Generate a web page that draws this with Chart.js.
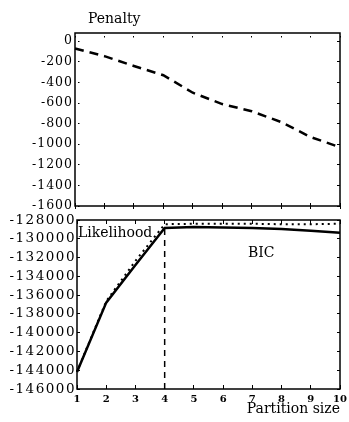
<!DOCTYPE html>
<html><head><meta charset="utf-8">
<script src="https://cdn.jsdelivr.net/npm/chart.js@4.4.1/dist/chart.umd.min.js"></script>
<style>
html,body{margin:0;padding:0;background:#fff;}
body{width:349px;height:422px;position:relative;overflow:hidden;}
#c1{position:absolute;left:0;top:0;width:349px;height:214px;}
#c2{position:absolute;left:0;top:212px;width:349px;height:210px;}
</style></head><body>
<canvas id="c1" width="349" height="214"></canvas>
<canvas id="c2" width="349" height="210"></canvas>
<script>
// ---- data ----
const partitionSizes = ['1','2','3','4','5','6','7','8','9','10'];
const penalty    = [-70, -145, -240, -330, -500, -610, -680, -785, -930, -1030];
const likelihood = [-144150, -136650, -132350, -128450, -128400, -128400, -128400, -128450, -128450, -128400];
const bic        = [-144200, -136800, -132800, -128850, -128750, -128800, -128850, -128950, -129150, -129350];
const penaltyTicks = [0, -200, -400, -600, -800, -1000, -1200, -1400, -1600];
const scoreTicks = [-128000, -130000, -132000, -134000, -136000, -138000, -140000, -142000, -144000, -146000];
const bestPartition = '4';

Chart.defaults.font.family = "'DejaVu Serif', serif";
Chart.defaults.color = '#000';

// dash pattern leaving only short marks at both ends of each grid line
function edgeDash(axis, startGap, first, last) {
  return (ctx) => {
    const a = ctx.chart.chartArea;
    if (!a) return [];
    const len = axis === 'x' ? (a.bottom - a.top) : (a.right - a.left);
    return [first, Math.max(len - startGap - first - last, 0), last, 1000];
  };
}

const spacingPlugin = {
  id: 'spacing',
  beforeDraw(chart, args, opts) { chart.ctx.letterSpacing = opts.y || '0px'; },
  beforeDatasetsDraw(chart) { chart.ctx.letterSpacing = '0px'; }
};

const frameNotes = {
  id: 'frameNotes',
  afterDraw(chart, args, opts) {
    const {ctx, chartArea: a} = chart;
    ctx.save();
    ctx.letterSpacing = '0px';
    ctx.strokeStyle = '#000';
    ctx.lineWidth = 1.5;
    ctx.strokeRect(a.left, a.top, a.right - a.left, a.bottom - a.top);
    ctx.fillStyle = '#000';
    ctx.textBaseline = 'middle';
    ctx.textAlign = 'left';
    (opts.items || []).forEach(it => {
      ctx.font = (it.size || 14) + "px 'DejaVu Serif', serif";
      ctx.fillText(it.text, a.left + it.dx, a.top + it.dy);
    });
    ctx.restore();
  }
};

// ---- top chart: Penalty ----
new Chart(document.getElementById('c1'), {
  type: 'line',
  data: {
    labels: partitionSizes,
    datasets: [{
      data: penalty,
      borderColor: '#000',
      borderWidth: 2.5,
      borderDash: [9, 6],
      pointRadius: 0,
      tension: 0,
      fill: false
    }]
  },
  options: {
    responsive: false,
    animation: false,
    devicePixelRatio: 1,
    layout: { padding: { top: 33, right: 9, left: 0, bottom: 0 } },
    plugins: {
      legend: { display: false },
      tooltip: { enabled: false },
      spacing: { y: '1px' },
      frameNotes: { items: [{ text: 'Penalty', dx: 13, dy: -14, size: 14 }] }
    },
    scales: {
      x: {
        type: 'category',
        offset: false,
        afterFit: s => { s.height = 8; s.paddingLeft = 0; s.paddingRight = 0; },
        ticks: { display: false },
        grid: { color: '#000', lineWidth: 1, drawTicks: true, tickLength: 3, tickColor: '#000', offset: false },
        border: { display: false, dash: edgeDash('x', 3, 1.5, 3), dashOffset: -3 }
      },
      y: {
        type: 'linear',
        min: -1600,
        max: 80,
        afterBuildTicks: s => { s.ticks = penaltyTicks.map(v => ({ value: v })); },
        afterFit: s => { s.width = 75; s.paddingTop = 0; s.paddingBottom = 0; },
        ticks: { callback: v => String(v), padding: 2, autoSkip: false, font: { size: 12.5 }, color: '#000' },
        grid: { color: '#000', lineWidth: 1, drawTicks: false },
        border: { display: false, dash: edgeDash('y', 3, 1.5, 3), dashOffset: -3 }
      }
    }
  },
  plugins: [spacingPlugin, frameNotes]
});

// ---- bottom chart: Likelihood and BIC ----
new Chart(document.getElementById('c2'), {
  type: 'line',
  data: {
    labels: partitionSizes,
    datasets: [
      {
        label: 'Likelihood',
        data: likelihood,
        borderColor: '#000',
        borderWidth: 2,
        borderDash: [2, 4],
        pointRadius: 0,
        tension: 0,
        fill: false
      },
      {
        label: 'BIC',
        data: bic,
        borderColor: '#000',
        borderWidth: 2.5,
        pointRadius: 0,
        tension: 0,
        fill: false
      },
      {
        label: 'best',
        data: [{ x: bestPartition, y: scoreTicks[scoreTicks.length - 1] }, { x: bestPartition, y: bic[partitionSizes.indexOf(bestPartition)] }],
        borderColor: '#000',
        borderWidth: 1.5,
        borderDash: [6, 5],
        pointRadius: 0,
        fill: false
      }
    ]
  },
  options: {
    responsive: false,
    animation: false,
    devicePixelRatio: 1,
    layout: { padding: { top: 8, right: 9, left: 0, bottom: 0 } },
    plugins: {
      legend: { display: false },
      tooltip: { enabled: false },
      spacing: { y: '1.5px' },
      frameNotes: { items: [
        { text: 'Likelihood', dx: 1, dy: 13, size: 14 },
        { text: 'BIC', dx: 171, dy: 33, size: 14 }
      ] }
    },
    scales: {
      x: {
        type: 'category',
        offset: false,
        afterFit: s => { s.height = 33; s.paddingLeft = 0; s.paddingRight = 0; },
        ticks: { z: 1, padding: 4, font: { size: 10, weight: 'bold' }, maxRotation: 0, autoSkip: false, color: '#000' },
        grid: { z: 1, color: '#000', lineWidth: 1, drawTicks: false, offset: false },
        border: { z: 1, display: false, dash: edgeDash('x', 0, 4, 4), dashOffset: 0 },
        title: { display: true, text: 'Partition size', align: 'end', font: { size: 14 }, color: '#000', padding: { top: 0, bottom: 4 } }
      },
      y: {
        type: 'linear',
        min: -146000,
        max: -128000,
        afterBuildTicks: s => { s.ticks = scoreTicks.map(v => ({ value: v })); },
        afterFit: s => { s.width = 77; s.paddingTop = 0; s.paddingBottom = 0; },
        ticks: { callback: v => String(v), padding: 1, autoSkip: false, font: { size: 13.5 }, color: '#000' },
        grid: { color: '#000', lineWidth: 1, drawTicks: false },
        border: { display: false, dash: edgeDash('y', 0, 3, 3), dashOffset: 0 }
      }
    }
  },
  plugins: [spacingPlugin, frameNotes]
});
</script>
</body></html>
